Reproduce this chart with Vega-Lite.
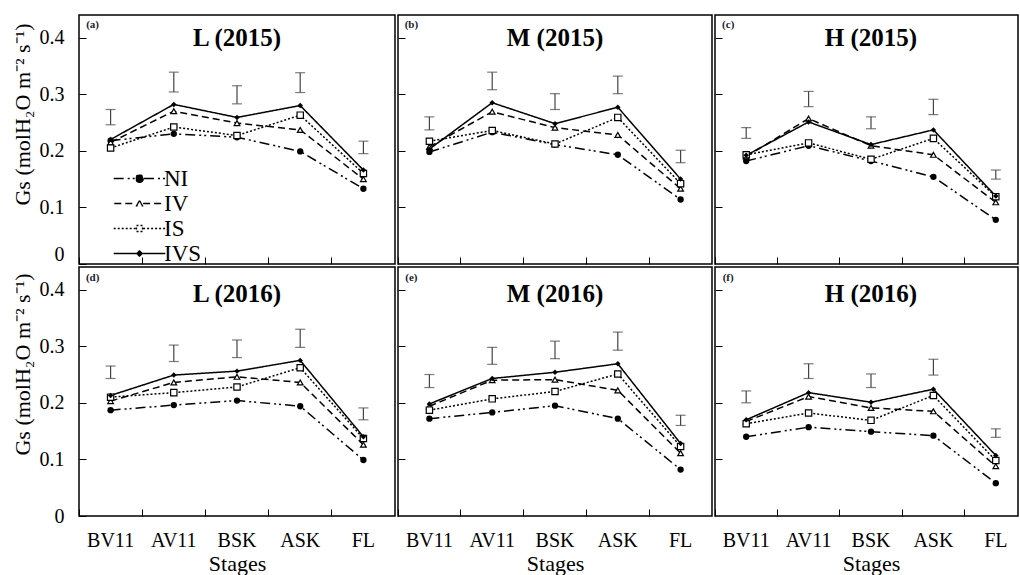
{
  "$schema": "https://vega.github.io/schema/vega-lite/v6.json",
  "background": "white",
  "padding": {"left": 10, "top": 14, "right": 0, "bottom": 0},
  "datasets": {
    "pts": [
      {"p":"a","s":"BV11","t":"NI","v":0.218},{"p":"a","s":"BV11","t":"IV","v":0.215},{"p":"a","s":"BV11","t":"IS","v":0.205},{"p":"a","s":"BV11","t":"IVS","v":0.220},
      {"p":"a","s":"AV11","t":"NI","v":0.230},{"p":"a","s":"AV11","t":"IV","v":0.270},{"p":"a","s":"AV11","t":"IS","v":0.242},{"p":"a","s":"AV11","t":"IVS","v":0.282},
      {"p":"a","s":"BSK","t":"NI","v":0.224},{"p":"a","s":"BSK","t":"IV","v":0.249},{"p":"a","s":"BSK","t":"IS","v":0.227},{"p":"a","s":"BSK","t":"IVS","v":0.259},
      {"p":"a","s":"ASK","t":"NI","v":0.199},{"p":"a","s":"ASK","t":"IV","v":0.237},{"p":"a","s":"ASK","t":"IS","v":0.263},{"p":"a","s":"ASK","t":"IVS","v":0.280},
      {"p":"a","s":"FL","t":"NI","v":0.133},{"p":"a","s":"FL","t":"IV","v":0.150},{"p":"a","s":"FL","t":"IS","v":0.160},{"p":"a","s":"FL","t":"IVS","v":0.166},
      {"p":"b","s":"BV11","t":"NI","v":0.198},{"p":"b","s":"BV11","t":"IV","v":0.207},{"p":"b","s":"BV11","t":"IS","v":0.217},{"p":"b","s":"BV11","t":"IVS","v":0.203},
      {"p":"b","s":"AV11","t":"NI","v":0.233},{"p":"b","s":"AV11","t":"IV","v":0.269},{"p":"b","s":"AV11","t":"IS","v":0.236},{"p":"b","s":"AV11","t":"IVS","v":0.285},
      {"p":"b","s":"BSK","t":"NI","v":0.211},{"p":"b","s":"BSK","t":"IV","v":0.241},{"p":"b","s":"BSK","t":"IS","v":0.212},{"p":"b","s":"BSK","t":"IVS","v":0.248},
      {"p":"b","s":"ASK","t":"NI","v":0.193},{"p":"b","s":"ASK","t":"IV","v":0.228},{"p":"b","s":"ASK","t":"IS","v":0.259},{"p":"b","s":"ASK","t":"IVS","v":0.277},
      {"p":"b","s":"FL","t":"NI","v":0.114},{"p":"b","s":"FL","t":"IV","v":0.133},{"p":"b","s":"FL","t":"IS","v":0.142},{"p":"b","s":"FL","t":"IVS","v":0.150},
      {"p":"c","s":"BV11","t":"NI","v":0.182},{"p":"c","s":"BV11","t":"IV","v":0.190},{"p":"c","s":"BV11","t":"IS","v":0.193},{"p":"c","s":"BV11","t":"IVS","v":0.192},
      {"p":"c","s":"AV11","t":"NI","v":0.209},{"p":"c","s":"AV11","t":"IV","v":0.257},{"p":"c","s":"AV11","t":"IS","v":0.214},{"p":"c","s":"AV11","t":"IVS","v":0.251},
      {"p":"c","s":"BSK","t":"NI","v":0.182},{"p":"c","s":"BSK","t":"IV","v":0.209},{"p":"c","s":"BSK","t":"IS","v":0.185},{"p":"c","s":"BSK","t":"IVS","v":0.211},
      {"p":"c","s":"ASK","t":"NI","v":0.154},{"p":"c","s":"ASK","t":"IV","v":0.193},{"p":"c","s":"ASK","t":"IS","v":0.222},{"p":"c","s":"ASK","t":"IVS","v":0.237},
      {"p":"c","s":"FL","t":"NI","v":0.078},{"p":"c","s":"FL","t":"IV","v":0.109},{"p":"c","s":"FL","t":"IS","v":0.119},{"p":"c","s":"FL","t":"IVS","v":0.120},
      {"p":"d","s":"BV11","t":"NI","v":0.187},{"p":"d","s":"BV11","t":"IV","v":0.203},{"p":"d","s":"BV11","t":"IS","v":0.210},{"p":"d","s":"BV11","t":"IVS","v":0.213},
      {"p":"d","s":"AV11","t":"NI","v":0.196},{"p":"d","s":"AV11","t":"IV","v":0.236},{"p":"d","s":"AV11","t":"IS","v":0.218},{"p":"d","s":"AV11","t":"IVS","v":0.249},
      {"p":"d","s":"BSK","t":"NI","v":0.204},{"p":"d","s":"BSK","t":"IV","v":0.246},{"p":"d","s":"BSK","t":"IS","v":0.228},{"p":"d","s":"BSK","t":"IVS","v":0.256},
      {"p":"d","s":"ASK","t":"NI","v":0.194},{"p":"d","s":"ASK","t":"IV","v":0.236},{"p":"d","s":"ASK","t":"IS","v":0.262},{"p":"d","s":"ASK","t":"IVS","v":0.275},
      {"p":"d","s":"FL","t":"NI","v":0.099},{"p":"d","s":"FL","t":"IV","v":0.126},{"p":"d","s":"FL","t":"IS","v":0.137},{"p":"d","s":"FL","t":"IVS","v":0.140},
      {"p":"e","s":"BV11","t":"NI","v":0.172},{"p":"e","s":"BV11","t":"IV","v":0.194},{"p":"e","s":"BV11","t":"IS","v":0.187},{"p":"e","s":"BV11","t":"IVS","v":0.198},
      {"p":"e","s":"AV11","t":"NI","v":0.183},{"p":"e","s":"AV11","t":"IV","v":0.240},{"p":"e","s":"AV11","t":"IS","v":0.207},{"p":"e","s":"AV11","t":"IVS","v":0.243},
      {"p":"e","s":"BSK","t":"NI","v":0.195},{"p":"e","s":"BSK","t":"IV","v":0.241},{"p":"e","s":"BSK","t":"IS","v":0.220},{"p":"e","s":"BSK","t":"IVS","v":0.254},
      {"p":"e","s":"ASK","t":"NI","v":0.172},{"p":"e","s":"ASK","t":"IV","v":0.222},{"p":"e","s":"ASK","t":"IS","v":0.251},{"p":"e","s":"ASK","t":"IVS","v":0.269},
      {"p":"e","s":"FL","t":"NI","v":0.082},{"p":"e","s":"FL","t":"IV","v":0.111},{"p":"e","s":"FL","t":"IS","v":0.123},{"p":"e","s":"FL","t":"IVS","v":0.128},
      {"p":"f","s":"BV11","t":"NI","v":0.140},{"p":"f","s":"BV11","t":"IV","v":0.167},{"p":"f","s":"BV11","t":"IS","v":0.163},{"p":"f","s":"BV11","t":"IVS","v":0.170},
      {"p":"f","s":"AV11","t":"NI","v":0.157},{"p":"f","s":"AV11","t":"IV","v":0.211},{"p":"f","s":"AV11","t":"IS","v":0.182},{"p":"f","s":"AV11","t":"IVS","v":0.218},
      {"p":"f","s":"BSK","t":"NI","v":0.149},{"p":"f","s":"BSK","t":"IV","v":0.191},{"p":"f","s":"BSK","t":"IS","v":0.169},{"p":"f","s":"BSK","t":"IVS","v":0.201},
      {"p":"f","s":"ASK","t":"NI","v":0.142},{"p":"f","s":"ASK","t":"IV","v":0.185},{"p":"f","s":"ASK","t":"IS","v":0.213},{"p":"f","s":"ASK","t":"IVS","v":0.224},
      {"p":"f","s":"FL","t":"NI","v":0.058},{"p":"f","s":"FL","t":"IV","v":0.088},{"p":"f","s":"FL","t":"IS","v":0.098},{"p":"f","s":"FL","t":"IVS","v":0.107}
    ],
    "err": [
      {"p":"a","s":"BV11","lo":0.246,"hi":0.273},{"p":"a","s":"AV11","lo":0.304,"hi":0.339},{"p":"a","s":"BSK","lo":0.283,"hi":0.315},{"p":"a","s":"ASK","lo":0.303,"hi":0.338},{"p":"a","s":"FL","lo":0.195,"hi":0.217},
      {"p":"b","s":"BV11","lo":0.237,"hi":0.260},{"p":"b","s":"AV11","lo":0.308,"hi":0.339},{"p":"b","s":"BSK","lo":0.273,"hi":0.301},{"p":"b","s":"ASK","lo":0.301,"hi":0.332},{"p":"b","s":"FL","lo":0.179,"hi":0.201},
      {"p":"c","s":"BV11","lo":0.222,"hi":0.241},{"p":"c","s":"AV11","lo":0.278,"hi":0.305},{"p":"c","s":"BSK","lo":0.239,"hi":0.260},{"p":"c","s":"ASK","lo":0.264,"hi":0.291},{"p":"c","s":"FL","lo":0.150,"hi":0.166},
      {"p":"d","s":"BV11","lo":0.243,"hi":0.265},{"p":"d","s":"AV11","lo":0.273,"hi":0.302},{"p":"d","s":"BSK","lo":0.280,"hi":0.311},{"p":"d","s":"ASK","lo":0.298,"hi":0.330},{"p":"d","s":"FL","lo":0.170,"hi":0.191},
      {"p":"e","s":"BV11","lo":0.227,"hi":0.250},{"p":"e","s":"AV11","lo":0.268,"hi":0.298},{"p":"e","s":"BSK","lo":0.278,"hi":0.309},{"p":"e","s":"ASK","lo":0.293,"hi":0.325},{"p":"e","s":"FL","lo":0.160,"hi":0.178},
      {"p":"f","s":"BV11","lo":0.200,"hi":0.221},{"p":"f","s":"AV11","lo":0.243,"hi":0.269},{"p":"f","s":"BSK","lo":0.227,"hi":0.251},{"p":"f","s":"ASK","lo":0.249,"hi":0.277},{"p":"f","s":"FL","lo":0.139,"hi":0.154}
    ],
    "lab": [
      {"p":"a","s":"BSK","y":0.400,"title":"L (2015)","s0":"BV11","y0":0.423,"tag":"(a)"},
      {"p":"b","s":"BSK","y":0.400,"title":"M (2015)","s0":"BV11","y0":0.423,"tag":"(b)"},
      {"p":"c","s":"BSK","y":0.400,"title":"H (2015)","s0":"BV11","y0":0.423,"tag":"(c)"},
      {"p":"d","s":"BSK","y":0.393,"title":"L (2016)","s0":"BV11","y0":0.420,"tag":"(d)"},
      {"p":"e","s":"BSK","y":0.393,"title":"M (2016)","s0":"BV11","y0":0.420,"tag":"(e)"},
      {"p":"f","s":"BSK","y":0.393,"title":"H (2016)","s0":"BV11","y0":0.420,"tag":"(f)"}
    ]
  },
  "config": {
    "font": "Liberation Serif",
    "view": {"stroke": "black", "strokeWidth": 1.5},
    "concat": {"spacing": 0},
    "axis": {"labelFont": "Liberation Serif", "titleFont": "Liberation Serif", "labelColor": "black", "titleColor": "black", "tickColor": "black", "tickWidth": 1, "grid": false, "domain": false, "titleFontWeight": "normal"}
  },
  "spacing": 0,
  "vconcat": [
    {"spacing": 0, "hconcat": [
      {"width": 316, "height": 249, "layer": [
        {"data": {"name": "pts"}, "transform": [{"filter": "datum.p==='a'"}],
         "mark": {"type": "line", "color": "black", "strokeWidth": 1.5},
         "encoding": {"x": {"field": "s", "type": "nominal", "sort": null, "scale": {"type": "band", "domain": ["BV11","AV11","BSK","ASK","FL"], "paddingInner": 0, "paddingOuter": 0}, "axis": {"labels": false, "title": null, "tickSize": -7, "bandPosition": 0, "tickExtra": false}},
                      "y": {"field": "v", "type": "quantitative", "scale": {"domain": [0, 0.44], "nice": false, "zero": true}, "axis": {"title": "Gs (molH₂O m⁻² s⁻¹)", "titleY": 99, "values": [0, 0.1, 0.2, 0.3, 0.4], "labelExpr": "datum.value === 0 ? '0' : format(datum.value, '.1f')", "labelFlush": 1, "tickSize": -7, "labelPadding": 22, "labelFontSize": 20, "titleFontSize": 22, "titlePadding": 5}},
                      "strokeDash": {"field": "t", "type": "nominal", "scale": {"domain": ["NI","IV","IS","IVS"], "range": [[10,4,2,3,2,4],[7,4],[2,2],[1,0]]},
                        "legend": {"title": null, "orient": "none", "legendX": 49, "legendY": 152, "padding": 0, "labelFont": "Liberation Serif", "labelFontSize": 23, "labelColor": "black", "symbolSize": 144, "symbolStrokeWidth": 1.3, "symbolStrokeColor": "black", "symbolOpacity": 1, "labelOffset": 13, "rowPadding": 1, "symbolOffset": 0}}}},
        {"data": {"name": "err"}, "transform": [{"filter": "datum.p==='a'"}], "mark": {"type": "rule", "color": "#444", "strokeWidth": 1.2},
         "encoding": {"x": {"field": "s", "type": "nominal"}, "y": {"field": "lo", "type": "quantitative"}, "y2": {"field": "hi"}}},
        {"data": {"name": "err"}, "transform": [{"filter": "datum.p==='a'"}], "mark": {"type": "tick", "orient": "horizontal", "color": "#444", "thickness": 1.2, "size": 10},
         "encoding": {"x": {"field": "s", "type": "nominal"}, "y": {"field": "lo", "type": "quantitative"}}},
        {"data": {"name": "err"}, "transform": [{"filter": "datum.p==='a'"}], "mark": {"type": "tick", "orient": "horizontal", "color": "#444", "thickness": 1.2, "size": 10},
         "encoding": {"x": {"field": "s", "type": "nominal"}, "y": {"field": "hi", "type": "quantitative"}}},
        {"data": {"name": "pts"}, "transform": [{"filter": "datum.p==='a' && datum.t==='NI'"}], "mark": {"type": "point", "shape": "circle", "filled": true, "color": "black", "size": 40, "opacity": 1},
         "encoding": {"x": {"field": "s", "type": "nominal"}, "y": {"field": "v", "type": "quantitative"}}},
        {"data": {"name": "pts"}, "transform": [{"filter": "datum.p==='a' && datum.t==='IV'"}], "mark": {"type": "point", "shape": "triangle-up", "filled": true, "fill": "white", "stroke": "black", "strokeWidth": 1.2, "size": 32, "opacity": 1},
         "encoding": {"x": {"field": "s", "type": "nominal"}, "y": {"field": "v", "type": "quantitative"}}},
        {"data": {"name": "pts"}, "transform": [{"filter": "datum.p==='a' && datum.t==='IS'"}], "mark": {"type": "point", "shape": "square", "filled": true, "fill": "white", "stroke": "black", "strokeWidth": 1.2, "size": 40, "opacity": 1},
         "encoding": {"x": {"field": "s", "type": "nominal"}, "y": {"field": "v", "type": "quantitative"}}},
        {"data": {"name": "pts"}, "transform": [{"filter": "datum.p==='a' && datum.t==='IVS'"}], "mark": {"type": "point", "shape": "diamond", "filled": true, "color": "black", "size": 30, "opacity": 1},
         "encoding": {"x": {"field": "s", "type": "nominal"}, "y": {"field": "v", "type": "quantitative"}}},
        {"data": {"name": "pts"}, "transform": [{"filter": "datum.p==='none'"}],
         "mark": {"type": "point", "filled": true, "stroke": "black", "strokeWidth": 1.3},
         "encoding": {"x": {"field": "s", "type": "nominal"}, "y": {"field": "v", "type": "quantitative"},
           "shape": {"field": "t", "type": "nominal", "scale": {"domain": ["NI","IV","IS","IVS"], "range": [
             "M-4.3,0H-0.75M0.75,0H4.3M0.65,0A0.65,0.65,0,1,1,-0.65,0A0.65,0.65,0,1,1,0.65,0Z",
             "M-4.2,0H-0.6M0.6,0H4.2M0,-0.5L0.5,0.4L-0.5,0.4Z",
             "M-4.3,0H-0.6M0.6,0H4.3M-0.5,-0.5H0.5V0.5H-0.5Z",
             "M-4.3,0H4.3M0,-0.45L0.45,0L0,0.45L-0.45,0Z"]}, "legend": null},
           "fill": {"field": "t", "type": "nominal", "scale": {"domain": ["NI","IV","IS","IVS"], "range": ["black","white","white","black"]}, "legend": null}}},
        {"data": {"name": "lab"}, "transform": [{"filter": "datum.p==='a'"}],
         "mark": {"type": "text", "fontSize": 25, "fontWeight": "bold", "font": "Liberation Serif", "baseline": "middle", "color": "black"},
         "encoding": {"x": {"field": "s", "type": "nominal"}, "y": {"field": "y", "type": "quantitative"}, "text": {"field": "title"}}},
        {"data": {"name": "lab"}, "transform": [{"filter": "datum.p==='a'"}],
         "mark": {"type": "text", "fontSize": 11, "fontWeight": "bold", "font": "Liberation Serif", "baseline": "middle", "color": "#1a1a2e", "dx": -18},
         "encoding": {"x": {"field": "s0", "type": "nominal"}, "y": {"field": "y0", "type": "quantitative"}, "text": {"field": "tag"}}}
      ]},
      {"width": 314, "height": 249, "layer": [
        {"data": {"name": "pts"}, "transform": [{"filter": "datum.p==='b'"}],
         "mark": {"type": "line", "color": "black", "strokeWidth": 1.5},
         "encoding": {"x": {"field": "s", "type": "nominal", "sort": null, "scale": {"type": "band", "domain": ["BV11","AV11","BSK","ASK","FL"], "paddingInner": 0, "paddingOuter": 0}, "axis": {"labels": false, "title": null, "tickSize": -7, "bandPosition": 0, "tickExtra": false}},
                      "y": {"field": "v", "type": "quantitative", "scale": {"domain": [0, 0.44], "nice": false, "zero": true}, "axis": {"labels": false, "title": null, "values": [0.1, 0.2, 0.3, 0.4], "tickSize": -7}},
                      "strokeDash": {"field": "t", "type": "nominal", "scale": {"domain": ["NI","IV","IS","IVS"], "range": [[10,4,2,3,2,4],[7,4],[2,2],[1,0]]}, "legend": null}}},
        {"data": {"name": "err"}, "transform": [{"filter": "datum.p==='b'"}], "mark": {"type": "rule", "color": "#444", "strokeWidth": 1.2},
         "encoding": {"x": {"field": "s", "type": "nominal"}, "y": {"field": "lo", "type": "quantitative"}, "y2": {"field": "hi"}}},
        {"data": {"name": "err"}, "transform": [{"filter": "datum.p==='b'"}], "mark": {"type": "tick", "orient": "horizontal", "color": "#444", "thickness": 1.2, "size": 10},
         "encoding": {"x": {"field": "s", "type": "nominal"}, "y": {"field": "lo", "type": "quantitative"}}},
        {"data": {"name": "err"}, "transform": [{"filter": "datum.p==='b'"}], "mark": {"type": "tick", "orient": "horizontal", "color": "#444", "thickness": 1.2, "size": 10},
         "encoding": {"x": {"field": "s", "type": "nominal"}, "y": {"field": "hi", "type": "quantitative"}}},
        {"data": {"name": "pts"}, "transform": [{"filter": "datum.p==='b' && datum.t==='NI'"}], "mark": {"type": "point", "shape": "circle", "filled": true, "color": "black", "size": 40, "opacity": 1},
         "encoding": {"x": {"field": "s", "type": "nominal"}, "y": {"field": "v", "type": "quantitative"}}},
        {"data": {"name": "pts"}, "transform": [{"filter": "datum.p==='b' && datum.t==='IV'"}], "mark": {"type": "point", "shape": "triangle-up", "filled": true, "fill": "white", "stroke": "black", "strokeWidth": 1.2, "size": 32, "opacity": 1},
         "encoding": {"x": {"field": "s", "type": "nominal"}, "y": {"field": "v", "type": "quantitative"}}},
        {"data": {"name": "pts"}, "transform": [{"filter": "datum.p==='b' && datum.t==='IS'"}], "mark": {"type": "point", "shape": "square", "filled": true, "fill": "white", "stroke": "black", "strokeWidth": 1.2, "size": 40, "opacity": 1},
         "encoding": {"x": {"field": "s", "type": "nominal"}, "y": {"field": "v", "type": "quantitative"}}},
        {"data": {"name": "pts"}, "transform": [{"filter": "datum.p==='b' && datum.t==='IVS'"}], "mark": {"type": "point", "shape": "diamond", "filled": true, "color": "black", "size": 30, "opacity": 1},
         "encoding": {"x": {"field": "s", "type": "nominal"}, "y": {"field": "v", "type": "quantitative"}}},
        {"data": {"name": "lab"}, "transform": [{"filter": "datum.p==='b'"}],
         "mark": {"type": "text", "fontSize": 25, "fontWeight": "bold", "font": "Liberation Serif", "baseline": "middle", "color": "black"},
         "encoding": {"x": {"field": "s", "type": "nominal"}, "y": {"field": "y", "type": "quantitative"}, "text": {"field": "title"}}},
        {"data": {"name": "lab"}, "transform": [{"filter": "datum.p==='b'"}],
         "mark": {"type": "text", "fontSize": 11, "fontWeight": "bold", "font": "Liberation Serif", "baseline": "middle", "color": "#1a1a2e", "dx": -18},
         "encoding": {"x": {"field": "s0", "type": "nominal"}, "y": {"field": "y0", "type": "quantitative"}, "text": {"field": "tag"}}}
      ]},
      {"width": 303, "height": 249, "layer": [
        {"data": {"name": "pts"}, "transform": [{"filter": "datum.p==='c'"}],
         "mark": {"type": "line", "color": "black", "strokeWidth": 1.5},
         "encoding": {"x": {"field": "s", "type": "nominal", "sort": null, "scale": {"type": "band", "domain": ["BV11","AV11","BSK","ASK","FL"], "paddingInner": 0, "paddingOuter": 0, "range": [0, 312]}, "axis": {"labels": false, "title": null, "tickSize": -7, "bandPosition": 0, "tickExtra": false}},
                      "y": {"field": "v", "type": "quantitative", "scale": {"domain": [0, 0.44], "nice": false, "zero": true}, "axis": {"labels": false, "title": null, "values": [0.1, 0.2, 0.3, 0.4], "tickSize": -7}},
                      "strokeDash": {"field": "t", "type": "nominal", "scale": {"domain": ["NI","IV","IS","IVS"], "range": [[10,4,2,3,2,4],[7,4],[2,2],[1,0]]}, "legend": null}}},
        {"data": {"name": "err"}, "transform": [{"filter": "datum.p==='c'"}], "mark": {"type": "rule", "color": "#444", "strokeWidth": 1.2},
         "encoding": {"x": {"field": "s", "type": "nominal"}, "y": {"field": "lo", "type": "quantitative"}, "y2": {"field": "hi"}}},
        {"data": {"name": "err"}, "transform": [{"filter": "datum.p==='c'"}], "mark": {"type": "tick", "orient": "horizontal", "color": "#444", "thickness": 1.2, "size": 10},
         "encoding": {"x": {"field": "s", "type": "nominal"}, "y": {"field": "lo", "type": "quantitative"}}},
        {"data": {"name": "err"}, "transform": [{"filter": "datum.p==='c'"}], "mark": {"type": "tick", "orient": "horizontal", "color": "#444", "thickness": 1.2, "size": 10},
         "encoding": {"x": {"field": "s", "type": "nominal"}, "y": {"field": "hi", "type": "quantitative"}}},
        {"data": {"name": "pts"}, "transform": [{"filter": "datum.p==='c' && datum.t==='NI'"}], "mark": {"type": "point", "shape": "circle", "filled": true, "color": "black", "size": 40, "opacity": 1},
         "encoding": {"x": {"field": "s", "type": "nominal"}, "y": {"field": "v", "type": "quantitative"}}},
        {"data": {"name": "pts"}, "transform": [{"filter": "datum.p==='c' && datum.t==='IV'"}], "mark": {"type": "point", "shape": "triangle-up", "filled": true, "fill": "white", "stroke": "black", "strokeWidth": 1.2, "size": 32, "opacity": 1},
         "encoding": {"x": {"field": "s", "type": "nominal"}, "y": {"field": "v", "type": "quantitative"}}},
        {"data": {"name": "pts"}, "transform": [{"filter": "datum.p==='c' && datum.t==='IS'"}], "mark": {"type": "point", "shape": "square", "filled": true, "fill": "white", "stroke": "black", "strokeWidth": 1.2, "size": 40, "opacity": 1},
         "encoding": {"x": {"field": "s", "type": "nominal"}, "y": {"field": "v", "type": "quantitative"}}},
        {"data": {"name": "pts"}, "transform": [{"filter": "datum.p==='c' && datum.t==='IVS'"}], "mark": {"type": "point", "shape": "diamond", "filled": true, "color": "black", "size": 30, "opacity": 1},
         "encoding": {"x": {"field": "s", "type": "nominal"}, "y": {"field": "v", "type": "quantitative"}}},
        {"data": {"name": "lab"}, "transform": [{"filter": "datum.p==='c'"}],
         "mark": {"type": "text", "fontSize": 25, "fontWeight": "bold", "font": "Liberation Serif", "baseline": "middle", "color": "black"},
         "encoding": {"x": {"field": "s", "type": "nominal"}, "y": {"field": "y", "type": "quantitative"}, "text": {"field": "title"}}},
        {"data": {"name": "lab"}, "transform": [{"filter": "datum.p==='c'"}],
         "mark": {"type": "text", "fontSize": 11, "fontWeight": "bold", "font": "Liberation Serif", "baseline": "middle", "color": "#1a1a2e", "dx": -18},
         "encoding": {"x": {"field": "s0", "type": "nominal"}, "y": {"field": "y0", "type": "quantitative"}, "text": {"field": "tag"}}}
      ]}
    ]},
    {"spacing": 0, "hconcat": [
      {"width": 316, "height": 249, "layer": [
        {"data": {"name": "pts"}, "transform": [{"filter": "datum.p==='d'"}],
         "mark": {"type": "line", "color": "black", "strokeWidth": 1.5},
         "encoding": {"x": {"field": "s", "type": "nominal", "sort": null, "scale": {"type": "band", "domain": ["BV11","AV11","BSK","ASK","FL"], "paddingInner": 0, "paddingOuter": 0}, "axis": {"title": "Stages", "labelFontSize": 20, "titleFontSize": 22, "labelAngle": 0, "tickSize": -7, "bandPosition": 0, "tickExtra": false, "labelPadding": 21, "titlePadding": 3}},
                      "y": {"field": "v", "type": "quantitative", "scale": {"domain": [0, 0.44], "nice": false, "zero": true}, "axis": {"title": "Gs (molH₂O m⁻² s⁻¹)", "titleY": 97, "values": [0, 0.1, 0.2, 0.3, 0.4], "labelExpr": "datum.value === 0 ? '0' : format(datum.value, '.1f')", "tickSize": -7, "labelPadding": 22, "labelFontSize": 20, "titleFontSize": 22, "titlePadding": 5}},
                      "strokeDash": {"field": "t", "type": "nominal", "scale": {"domain": ["NI","IV","IS","IVS"], "range": [[10,4,2,3,2,4],[7,4],[2,2],[1,0]]}, "legend": null}}},
        {"data": {"name": "err"}, "transform": [{"filter": "datum.p==='d'"}], "mark": {"type": "rule", "color": "#444", "strokeWidth": 1.2},
         "encoding": {"x": {"field": "s", "type": "nominal"}, "y": {"field": "lo", "type": "quantitative"}, "y2": {"field": "hi"}}},
        {"data": {"name": "err"}, "transform": [{"filter": "datum.p==='d'"}], "mark": {"type": "tick", "orient": "horizontal", "color": "#444", "thickness": 1.2, "size": 10},
         "encoding": {"x": {"field": "s", "type": "nominal"}, "y": {"field": "lo", "type": "quantitative"}}},
        {"data": {"name": "err"}, "transform": [{"filter": "datum.p==='d'"}], "mark": {"type": "tick", "orient": "horizontal", "color": "#444", "thickness": 1.2, "size": 10},
         "encoding": {"x": {"field": "s", "type": "nominal"}, "y": {"field": "hi", "type": "quantitative"}}},
        {"data": {"name": "pts"}, "transform": [{"filter": "datum.p==='d' && datum.t==='NI'"}], "mark": {"type": "point", "shape": "circle", "filled": true, "color": "black", "size": 40, "opacity": 1},
         "encoding": {"x": {"field": "s", "type": "nominal"}, "y": {"field": "v", "type": "quantitative"}}},
        {"data": {"name": "pts"}, "transform": [{"filter": "datum.p==='d' && datum.t==='IV'"}], "mark": {"type": "point", "shape": "triangle-up", "filled": true, "fill": "white", "stroke": "black", "strokeWidth": 1.2, "size": 32, "opacity": 1},
         "encoding": {"x": {"field": "s", "type": "nominal"}, "y": {"field": "v", "type": "quantitative"}}},
        {"data": {"name": "pts"}, "transform": [{"filter": "datum.p==='d' && datum.t==='IS'"}], "mark": {"type": "point", "shape": "square", "filled": true, "fill": "white", "stroke": "black", "strokeWidth": 1.2, "size": 40, "opacity": 1},
         "encoding": {"x": {"field": "s", "type": "nominal"}, "y": {"field": "v", "type": "quantitative"}}},
        {"data": {"name": "pts"}, "transform": [{"filter": "datum.p==='d' && datum.t==='IVS'"}], "mark": {"type": "point", "shape": "diamond", "filled": true, "color": "black", "size": 30, "opacity": 1},
         "encoding": {"x": {"field": "s", "type": "nominal"}, "y": {"field": "v", "type": "quantitative"}}},
        {"data": {"name": "lab"}, "transform": [{"filter": "datum.p==='d'"}],
         "mark": {"type": "text", "fontSize": 25, "fontWeight": "bold", "font": "Liberation Serif", "baseline": "middle", "color": "black"},
         "encoding": {"x": {"field": "s", "type": "nominal"}, "y": {"field": "y", "type": "quantitative"}, "text": {"field": "title"}}},
        {"data": {"name": "lab"}, "transform": [{"filter": "datum.p==='d'"}],
         "mark": {"type": "text", "fontSize": 11, "fontWeight": "bold", "font": "Liberation Serif", "baseline": "middle", "color": "#1a1a2e", "dx": -18},
         "encoding": {"x": {"field": "s0", "type": "nominal"}, "y": {"field": "y0", "type": "quantitative"}, "text": {"field": "tag"}}}
      ]},
      {"width": 314, "height": 249, "layer": [
        {"data": {"name": "pts"}, "transform": [{"filter": "datum.p==='e'"}],
         "mark": {"type": "line", "color": "black", "strokeWidth": 1.5},
         "encoding": {"x": {"field": "s", "type": "nominal", "sort": null, "scale": {"type": "band", "domain": ["BV11","AV11","BSK","ASK","FL"], "paddingInner": 0, "paddingOuter": 0}, "axis": {"title": "Stages", "labelFontSize": 20, "titleFontSize": 22, "labelAngle": 0, "tickSize": -7, "bandPosition": 0, "tickExtra": false, "labelPadding": 21, "titlePadding": 3}},
                      "y": {"field": "v", "type": "quantitative", "scale": {"domain": [0, 0.44], "nice": false, "zero": true}, "axis": {"labels": false, "title": null, "values": [0.1, 0.2, 0.3, 0.4], "tickSize": -7}},
                      "strokeDash": {"field": "t", "type": "nominal", "scale": {"domain": ["NI","IV","IS","IVS"], "range": [[10,4,2,3,2,4],[7,4],[2,2],[1,0]]}, "legend": null}}},
        {"data": {"name": "err"}, "transform": [{"filter": "datum.p==='e'"}], "mark": {"type": "rule", "color": "#444", "strokeWidth": 1.2},
         "encoding": {"x": {"field": "s", "type": "nominal"}, "y": {"field": "lo", "type": "quantitative"}, "y2": {"field": "hi"}}},
        {"data": {"name": "err"}, "transform": [{"filter": "datum.p==='e'"}], "mark": {"type": "tick", "orient": "horizontal", "color": "#444", "thickness": 1.2, "size": 10},
         "encoding": {"x": {"field": "s", "type": "nominal"}, "y": {"field": "lo", "type": "quantitative"}}},
        {"data": {"name": "err"}, "transform": [{"filter": "datum.p==='e'"}], "mark": {"type": "tick", "orient": "horizontal", "color": "#444", "thickness": 1.2, "size": 10},
         "encoding": {"x": {"field": "s", "type": "nominal"}, "y": {"field": "hi", "type": "quantitative"}}},
        {"data": {"name": "pts"}, "transform": [{"filter": "datum.p==='e' && datum.t==='NI'"}], "mark": {"type": "point", "shape": "circle", "filled": true, "color": "black", "size": 40, "opacity": 1},
         "encoding": {"x": {"field": "s", "type": "nominal"}, "y": {"field": "v", "type": "quantitative"}}},
        {"data": {"name": "pts"}, "transform": [{"filter": "datum.p==='e' && datum.t==='IV'"}], "mark": {"type": "point", "shape": "triangle-up", "filled": true, "fill": "white", "stroke": "black", "strokeWidth": 1.2, "size": 32, "opacity": 1},
         "encoding": {"x": {"field": "s", "type": "nominal"}, "y": {"field": "v", "type": "quantitative"}}},
        {"data": {"name": "pts"}, "transform": [{"filter": "datum.p==='e' && datum.t==='IS'"}], "mark": {"type": "point", "shape": "square", "filled": true, "fill": "white", "stroke": "black", "strokeWidth": 1.2, "size": 40, "opacity": 1},
         "encoding": {"x": {"field": "s", "type": "nominal"}, "y": {"field": "v", "type": "quantitative"}}},
        {"data": {"name": "pts"}, "transform": [{"filter": "datum.p==='e' && datum.t==='IVS'"}], "mark": {"type": "point", "shape": "diamond", "filled": true, "color": "black", "size": 30, "opacity": 1},
         "encoding": {"x": {"field": "s", "type": "nominal"}, "y": {"field": "v", "type": "quantitative"}}},
        {"data": {"name": "lab"}, "transform": [{"filter": "datum.p==='e'"}],
         "mark": {"type": "text", "fontSize": 25, "fontWeight": "bold", "font": "Liberation Serif", "baseline": "middle", "color": "black"},
         "encoding": {"x": {"field": "s", "type": "nominal"}, "y": {"field": "y", "type": "quantitative"}, "text": {"field": "title"}}},
        {"data": {"name": "lab"}, "transform": [{"filter": "datum.p==='e'"}],
         "mark": {"type": "text", "fontSize": 11, "fontWeight": "bold", "font": "Liberation Serif", "baseline": "middle", "color": "#1a1a2e", "dx": -18},
         "encoding": {"x": {"field": "s0", "type": "nominal"}, "y": {"field": "y0", "type": "quantitative"}, "text": {"field": "tag"}}}
      ]},
      {"width": 303, "height": 249, "layer": [
        {"data": {"name": "pts"}, "transform": [{"filter": "datum.p==='f'"}],
         "mark": {"type": "line", "color": "black", "strokeWidth": 1.5},
         "encoding": {"x": {"field": "s", "type": "nominal", "sort": null, "scale": {"type": "band", "domain": ["BV11","AV11","BSK","ASK","FL"], "paddingInner": 0, "paddingOuter": 0, "range": [0, 312]}, "axis": {"title": "Stages", "labelFontSize": 20, "titleFontSize": 22, "labelAngle": 0, "tickSize": -7, "bandPosition": 0, "tickExtra": false, "labelPadding": 21, "titlePadding": 3}},
                      "y": {"field": "v", "type": "quantitative", "scale": {"domain": [0, 0.44], "nice": false, "zero": true}, "axis": {"labels": false, "title": null, "values": [0.1, 0.2, 0.3, 0.4], "tickSize": -7}},
                      "strokeDash": {"field": "t", "type": "nominal", "scale": {"domain": ["NI","IV","IS","IVS"], "range": [[10,4,2,3,2,4],[7,4],[2,2],[1,0]]}, "legend": null}}},
        {"data": {"name": "err"}, "transform": [{"filter": "datum.p==='f'"}], "mark": {"type": "rule", "color": "#444", "strokeWidth": 1.2},
         "encoding": {"x": {"field": "s", "type": "nominal"}, "y": {"field": "lo", "type": "quantitative"}, "y2": {"field": "hi"}}},
        {"data": {"name": "err"}, "transform": [{"filter": "datum.p==='f'"}], "mark": {"type": "tick", "orient": "horizontal", "color": "#444", "thickness": 1.2, "size": 10},
         "encoding": {"x": {"field": "s", "type": "nominal"}, "y": {"field": "lo", "type": "quantitative"}}},
        {"data": {"name": "err"}, "transform": [{"filter": "datum.p==='f'"}], "mark": {"type": "tick", "orient": "horizontal", "color": "#444", "thickness": 1.2, "size": 10},
         "encoding": {"x": {"field": "s", "type": "nominal"}, "y": {"field": "hi", "type": "quantitative"}}},
        {"data": {"name": "pts"}, "transform": [{"filter": "datum.p==='f' && datum.t==='NI'"}], "mark": {"type": "point", "shape": "circle", "filled": true, "color": "black", "size": 40, "opacity": 1},
         "encoding": {"x": {"field": "s", "type": "nominal"}, "y": {"field": "v", "type": "quantitative"}}},
        {"data": {"name": "pts"}, "transform": [{"filter": "datum.p==='f' && datum.t==='IV'"}], "mark": {"type": "point", "shape": "triangle-up", "filled": true, "fill": "white", "stroke": "black", "strokeWidth": 1.2, "size": 32, "opacity": 1},
         "encoding": {"x": {"field": "s", "type": "nominal"}, "y": {"field": "v", "type": "quantitative"}}},
        {"data": {"name": "pts"}, "transform": [{"filter": "datum.p==='f' && datum.t==='IS'"}], "mark": {"type": "point", "shape": "square", "filled": true, "fill": "white", "stroke": "black", "strokeWidth": 1.2, "size": 40, "opacity": 1},
         "encoding": {"x": {"field": "s", "type": "nominal"}, "y": {"field": "v", "type": "quantitative"}}},
        {"data": {"name": "pts"}, "transform": [{"filter": "datum.p==='f' && datum.t==='IVS'"}], "mark": {"type": "point", "shape": "diamond", "filled": true, "color": "black", "size": 30, "opacity": 1},
         "encoding": {"x": {"field": "s", "type": "nominal"}, "y": {"field": "v", "type": "quantitative"}}},
        {"data": {"name": "lab"}, "transform": [{"filter": "datum.p==='f'"}],
         "mark": {"type": "text", "fontSize": 25, "fontWeight": "bold", "font": "Liberation Serif", "baseline": "middle", "color": "black"},
         "encoding": {"x": {"field": "s", "type": "nominal"}, "y": {"field": "y", "type": "quantitative"}, "text": {"field": "title"}}},
        {"data": {"name": "lab"}, "transform": [{"filter": "datum.p==='f'"}],
         "mark": {"type": "text", "fontSize": 11, "fontWeight": "bold", "font": "Liberation Serif", "baseline": "middle", "color": "#1a1a2e", "dx": -18},
         "encoding": {"x": {"field": "s0", "type": "nominal"}, "y": {"field": "y0", "type": "quantitative"}, "text": {"field": "tag"}}}
      ]}
    ]}
  ]
}
